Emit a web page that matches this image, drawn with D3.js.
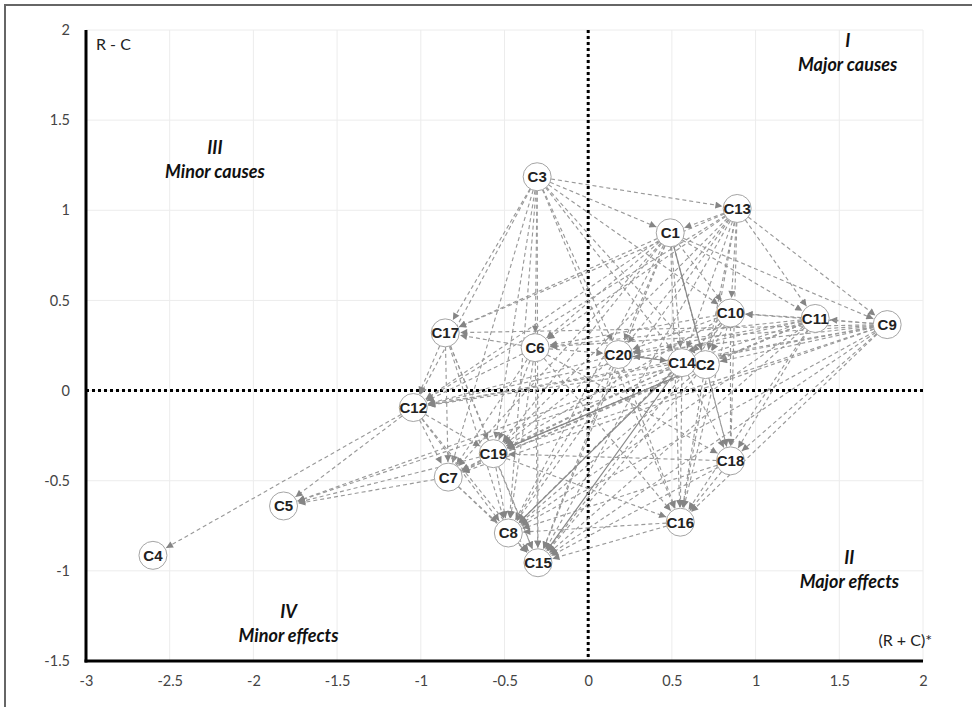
<!DOCTYPE html>
<html><head><meta charset="utf-8">
<script src="https://cdn.jsdelivr.net/npm/d3@7"></script>
<style>body{margin:0;background:#fff;}svg{display:block;}</style>
</head><body>
<svg id="chart" width="972" height="707"></svg>
<script>
const nodeNames = ["C1","C2","C3","C4","C5","C6","C7","C8","C9","C10","C11","C12","C13","C14","C15","C16","C17","C18","C19","C20"];
const rPlusC  = [0.49, 0.70, -0.305, -2.60, -1.82, -0.317, -0.836, -0.477, 1.786, 0.85, 1.356, -1.045, 0.89, 0.56, -0.30, 0.55, -0.854, 0.85, -0.567, 0.18];
const rMinusC = [0.875, 0.144, 1.186, -0.914, -0.64, 0.238, -0.48, -0.79, 0.366, 0.43, 0.40, -0.094, 1.01, 0.155, -0.955, -0.73, 0.32, -0.39, -0.35, 0.20];
const xTicks = [-3, -2.5, -2, -1.5, -1, -0.5, 0, 0.5, 1, 1.5, 2];
const yTicks = [-1.5, -1, -0.5, 0, 0.5, 1, 1.5, 2];
const dashedEdges = [
  ["C3","C1"],["C3","C13"],["C3","C6"],["C3","C17"],["C3","C20"],["C3","C14"],["C3","C2"],["C3","C19"],["C3","C8"],["C3","C15"],["C3","C12"],["C3","C16"],["C3","C10"],["C3","C7"],
  ["C13","C1"],["C13","C10"],["C13","C11"],["C13","C9"],["C13","C6"],["C13","C20"],["C13","C14"],["C13","C2"],["C13","C17"],["C13","C12"],["C13","C19"],["C13","C8"],["C13","C15"],["C13","C16"],["C13","C18"],
  ["C1","C11"],["C1","C9"],["C1","C17"],["C1","C6"],["C1","C20"],["C1","C14"],["C1","C12"],["C1","C19"],["C1","C7"],["C1","C8"],["C1","C15"],["C1","C16"],["C1","C18"],["C1","C10"],
  ["C9","C11"],["C9","C10"],["C9","C20"],["C9","C14"],["C9","C2"],["C9","C6"],["C9","C17"],["C9","C12"],["C9","C19"],["C9","C7"],["C9","C8"],["C9","C15"],["C9","C16"],["C9","C18"],
  ["C11","C10"],["C11","C14"],["C11","C2"],["C11","C20"],["C11","C6"],["C11","C19"],["C11","C8"],["C11","C15"],["C11","C16"],["C11","C18"],["C11","C12"],["C11","C7"],
  ["C10","C20"],["C10","C14"],["C10","C2"],["C10","C6"],["C10","C19"],["C10","C8"],["C10","C15"],["C10","C16"],["C10","C18"],
  ["C17","C12"],["C17","C7"],["C17","C19"],["C17","C8"],["C17","C15"],
  ["C6","C20"],["C6","C17"],["C6","C12"],["C6","C19"],["C6","C7"],["C6","C8"],["C6","C15"],["C6","C16"],["C6","C18"],
  ["C20","C8"],["C20","C15"],["C20","C19"],["C20","C16"],["C20","C12"],
  ["C14","C19"],["C14","C7"],["C14","C16"],["C14","C18"],["C14","C12"],["C14","C5"],
  ["C2","C8"],["C2","C15"],["C2","C19"],["C2","C16"],["C2","C18"],["C2","C12"],["C2","C7"],["C2","C5"],["C2","C20"],
  ["C12","C4"],["C12","C5"],["C12","C7"],["C12","C19"],["C12","C8"],["C12","C15"],
  ["C19","C7"],["C19","C5"],["C19","C8"],["C19","C15"],["C19","C16"],
  ["C7","C5"],["C7","C8"],["C7","C15"],
  ["C8","C15"],["C16","C15"],["C16","C8"],
  ["C18","C16"],["C18","C8"],["C18","C15"],["C18","C19"]
];
const solidEdges = [["C1","C2"],["C20","C14"],["C14","C8"],["C14","C15"],["C2","C19"]];

const svg = d3.select("#chart");
const x = d3.scaleLinear().domain([-3, 2]).range([86, 923]);
const y = d3.scaleLinear().domain([-1.5, 2]).range([661, 30]);
const R = 14;
const sansFont = "Lato, 'Open Sans', sans-serif";
const fmt = d => String(d);

// frame
svg.append("path").attr("d", "M5,707 L5,5 L972,5").attr("fill","none").attr("stroke","#666").attr("stroke-width",2);

// grid
svg.append("g").selectAll("line").data(xTicks.filter(d => d > -3)).join("line")
  .attr("x1", d => x(d)).attr("x2", d => x(d)).attr("y1", y(2)).attr("y2", y(-1.5))
  .attr("stroke", "#ececec").attr("stroke-width", 1);
svg.append("g").selectAll("line").data(yTicks.filter(d => d > -1.5)).join("line")
  .attr("x1", x(-3)).attr("x2", x(2)).attr("y1", d => y(d)).attr("y2", d => y(d))
  .attr("stroke", "#ececec").attr("stroke-width", 1);

// axes via d3 axis generators (labels only)
const xAxis = svg.append("g").attr("transform", `translate(0,${y(-1.5)})`)
  .call(d3.axisBottom(x).tickValues(xTicks).tickSize(0).tickPadding(15).tickFormat(fmt));
const yAxis = svg.append("g").attr("transform", `translate(${x(-3)},0)`)
  .call(d3.axisLeft(y).tickValues(yTicks).tickSize(0).tickPadding(16).tickFormat(fmt));
[xAxis, yAxis].forEach(g => {
  g.select(".domain").remove();
  g.selectAll("text").attr("font-family", sansFont).attr("font-size", 14.5).attr("fill", "#444");
});

// axis lines
svg.append("line").attr("x1", x(-3)).attr("x2", x(-3)).attr("y1", y(2)).attr("y2", y(-1.5)+1.5).attr("stroke","#000").attr("stroke-width",3);
svg.append("line").attr("x1", x(-3)-1.5).attr("x2", x(2)).attr("y1", y(-1.5)).attr("y2", y(-1.5)).attr("stroke","#000").attr("stroke-width",3);

// quadrant dotted lines
svg.append("line").attr("x1", x(0)).attr("x2", x(0)).attr("y1", y(2)).attr("y2", y(-1.5))
  .attr("stroke","#000").attr("stroke-width",3).attr("stroke-dasharray","3,3");
svg.append("line").attr("x1", x(-3)).attr("x2", x(2)).attr("y1", y(0)).attr("y2", y(0))
  .attr("stroke","#000").attr("stroke-width",3).attr("stroke-dasharray","3,3");

// axis titles
svg.append("text").attr("x", 96).attr("y", 50).text("R - C")
  .attr("font-family", sansFont).attr("font-size",16).attr("fill","#222");
svg.append("text").attr("x", 932).attr("y", 646).attr("text-anchor","end").text("(R + C)*")
  .attr("font-family", sansFont).attr("font-size",16).attr("fill","#222");

// quadrant labels
const quadNum = ["I","II","III","IV"];
const quadText = ["Major causes","Major effects","Minor causes","Minor effects"];
const quadPos = [[1.55, 1.905],[1.56, -0.96],[-2.23, 1.31],[-1.79, -1.26]];
quadNum.forEach((q, i) => {
  const g = svg.append("g").attr("transform", `translate(${x(quadPos[i][0])},${y(quadPos[i][1])})`)
    .attr("font-family", sansFont).attr("font-weight","bold").attr("font-style","italic")
    .attr("font-size",18).attr("fill","#111").attr("text-anchor","middle");
  g.append("text").attr("y", 0).text(q);
  g.append("text").attr("y", 24).text(quadText[i]);
});

// nodes
const nodes = nodeNames.map((n, i) => ({ name: n, px: x(rPlusC[i]), py: y(rMinusC[i]) }));
const byName = Object.fromEntries(nodes.map(n => [n.name, n]));

// marker
svg.append("defs").append("marker").attr("id","arr").attr("viewBox","0 0 10 10").attr("refX",10).attr("refY",5)
  .attr("markerWidth",8).attr("markerHeight",7).attr("markerUnits","userSpaceOnUse").attr("orient","auto")
  .append("path").attr("d","M0,0 L10,5 L0,10 Z").attr("fill","#858585");

function seg(e) {
  const a = byName[e[0]], b = byName[e[1]];
  const dx = b.px - a.px, dy = b.py - a.py, L = Math.hypot(dx, dy);
  const ux = dx / L, uy = dy / L;
  return { x1: a.px + ux * R, y1: a.py + uy * R, x2: b.px - ux * (R + 1), y2: b.py - uy * (R + 1) };
}
svg.append("g").selectAll("line").data(dashedEdges.map(seg)).join("line")
  .attr("x1", d => d.x1).attr("y1", d => d.y1).attr("x2", d => d.x2).attr("y2", d => d.y2)
  .attr("stroke", "#999").attr("stroke-width", 1.15).attr("stroke-dasharray", "4,3")
  .attr("marker-end", "url(#arr)");
svg.append("g").selectAll("line").data(solidEdges.map(seg)).join("line")
  .attr("x1", d => d.x1).attr("y1", d => d.y1).attr("x2", d => d.x2).attr("y2", d => d.y2)
  .attr("stroke", "#888").attr("stroke-width", 1.2)
  .attr("marker-end", "url(#arr)");

// draw order: C14 last so it overlaps C2
const order = nodes.slice().sort((a, b) => (a.name === "C14" ? 1 : 0) - (b.name === "C14" ? 1 : 0));
const ng = svg.append("g").selectAll("g").data(order).join("g")
  .attr("transform", d => `translate(${d.px},${d.py})`);
ng.append("circle").attr("r", R).attr("fill", "#fff").attr("stroke", "#a5a5a5").attr("stroke-width", 1);
ng.append("text").text(d => d.name).attr("text-anchor","middle").attr("dy","0.36em")
  .attr("font-family","'Liberation Sans', Arial, sans-serif").attr("font-weight","bold")
  .attr("font-size",15).attr("fill","#222");
</script>
</body></html>
